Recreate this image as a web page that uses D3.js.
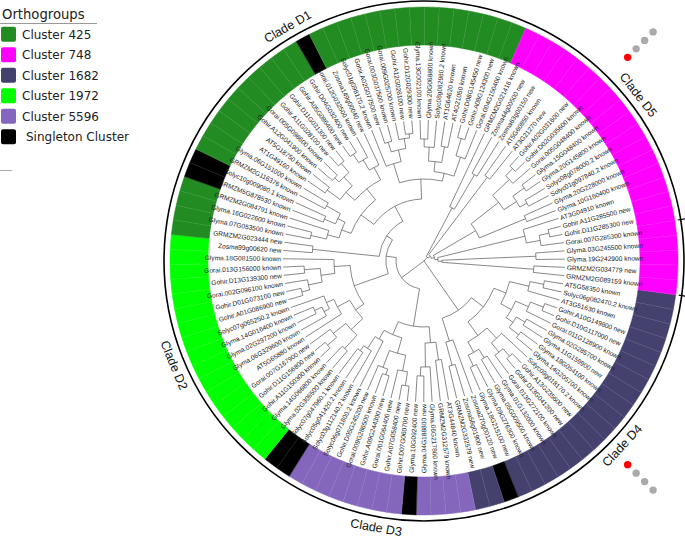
<!DOCTYPE html>
<html><head><meta charset="utf-8">
<script src="https://cdn.jsdelivr.net/npm/d3@7"></script>
<style>body{margin:0;background:#fff}svg{display:block}</style>
</head><body><svg id="c" width="685" height="538"></svg>
<script>
// ---------- DATA ----------
const leafLabels = [
"AT5G58350 known","Solyc06g082470.2 known","AT3G51630 known","Gohir.A10G149800 new","Gohir.D10G117000 new",
"Gorai.011G128900 known","Glyma.02G285700 known","Glyma.11G159900 new","Glyma.18G054100 known","Glyma.14G205700 known",
"Solyc09g018170.2 known","Gohir.A13G235600 new","Gohir.D13G041200 new","Gorai.013G272100 known","Glyma.01G132000 known",
"Glyma.05G009500 known","Glyma.09G276300 known","Glyma.18G215100 new","Zosma270g00120 new","Zosma56g01900 new",
"GRMZM2G332579 new","AT3G44840 known","GRMZM2G312579 known","Glyma.06G217800 known","Glyma.04G188800 new",
"Glyma.10G092400 new","Gohir.D07G060700 new","Gohir.A07G058400 new","Gorai.001G064400 new","Gohir.A09G244300 new",
"Gorai.009G286500 known","Gohir.D05G245200 new","Solyc06g071800.2 known","Solyc03g112140.2 known","Solyc05g041420.2 known",
"Solyc07g047960.1 known","Glyma.02G306500 known","Glyma.14G066800 known","Gohir.A11G150300 known","Gohir.D11G156800 new",
"Gorai.007G167900 new","AT5G65880 known","Glyma.06G329600 known","Glyma.02G297200 known","Glyma.14G016400 known",
"Solyc07g065250.2 known","Gohir.A01G086900 new","Gohir.D01G073100 new","Gorai.002G096100 known","Gohir.D13G139300 new",
"Gorai.013G156000 known","Glyma.18G081500 known","Zosma99g00620 new","GRMZM2G023444 new","Glyma.07G053500 known",
"Glyma.16G022600 known","GRMZM2G084791 known","GRMZM5G878530 known","Solyc10g009080.1 known","GRMZM2G116376 known",
"Glyma.06G151000 known","AT1G49160 known","AT5G18750 known","Gohir.A12G041900 known","Gorai.005G098600 known",
"Gohir.A11G028100 new","Gohir.D11G031300 new","Gohir.A05G086400 new","Gohir.D04G032400 new","Gorai.012G032500 known",
"Zosma149g00040 new","Solyc01g098170.2 known","Gohir.A02G077500 new","Gorai.003G037500 known","Gorai.009G025700 known",
"Gohir.A12G028100 new","Gohir.D12G029300 new","Glyma.13G002100 known","Glyma.20G068800 known","Solyc08g082980.2 known",
"AT1G64620 known","AT4G21050 known","Gohir.D08G145450 new","Gohir.A08G124300 new","Gorai.004G150400 known",
"GRMZM2G021416 known","Zosma44g00500 new","Zosma63g00150 new","AT5G60850 known","AT3G21270 new",
"Gohir.A02G031600 new","Gohir.D02G035600 known","Gorai.005G048400 known","Glyma.15G048400 known","Glyma.20G145800 known",
"Solyc08g078000.2 known","Solyc01g097840.2 known","Glyma.20G228000 known","Glyma.10G160400 known","AT3G04910 known",
"Gohir.A11G285500 new","Gohir.D11G285300 new","Gorai.007G285300 known","Glyma.03G245500 known","Glyma.19G242900 known",
"GRMZM2G034779 new","GRMZM2G089159 known"];

// cluster index of every leaf (index into clusterNames)
const leafCluster = [
2,2,2,2,2,2,2,2,2,2,2,2,2,2,2,2,2,2,5,2,2,
4,4,4,4,5,4,4,4,4,4,4,4,4,5,5,
3,3,3,3,3,3,3,3,3,3,3,3,3,3,3,3,3,
0,0,0,0,5,5,0,0,0,0,0,0,0,0,0,0,5,0,0,0,0,0,0,0,0,0,0,0,0,0,0,0,
1,1,1,1,1,1,1,1,1,1,1,1,1,1,1,1,1,1,1,1,1,1];

const clusterNames = ["Cluster 425","Cluster 748","Cluster 1682","Cluster 1972","Cluster 5596","Singleton Cluster"];
const clusterColors = ["#228B22","#FF00FF","#44416F","#00FF00","#8466BC","#000000"];

const cladeNames = ["Clade D4","Clade D3","Clade D2","Clade D1","Clade D5"];
const cladeFirstLeaf = [0,21,36,53,85];
const cladeLastLeaf  = [20,33,52,84,101];

// tree topology: leaf = index into leafLabels, value after ":" = node depth
const treeD4 = "((((0:132,1:130):122,2:126):108,(((3:134,4:134):128,5:130):114,((6:130,7:128):118,(8:130,9:127):120):108):100):88,((10:128,((11:134,12:134):128,13:130):118):106,((14:128,15:126):114,(16:130,17:128):116):104):92):75,(18:118,(19:126,20:120):108):84):60";
const treeD3 = "(((21:125,22:118):100,(23:128,(24:126,25:120):115):106):82,((((26:132,27:132):126,28:128):112,((29:130,30:128):120,31:124):114):96,(32:126,(33:122,(34:124,35:120):110):104):90):80):66";
const treeD2 = "((((36:130,37:128):118,((38:134,39:134):128,40:130):116):100,(41:124,((42:128,(43:130,44:128):120):112,45:122):106):98):84,((((46:132,47:132):126,48:128):118,(49:130,50:128):120):104,51:112):90):74";
const treePair = "(52:126,53:126):112";
const treeD1 = "((((((54:128,55:126):116,56:118):100,((57:124,58:120):108,(59:126,60:122):112):96):88,(((61:130,62:130):120,((63:130,64:128):122,(65:134,66:134):128):116):104,(((67:134,68:134):128,69:128):118,70:120):106):92):78,((71:124,((72:130,73:130):124,(74:130,(75:134,76:134):128):124):114):102,((((77:130,78:130):122,79:126):114,(80:128,81:126):116):100,((82:134,83:134):128,84:130):110):90):82):62";
const treeD5a = "(85:124,(86:130,87:128):100):60";
const treeD5b = "(88:130,89:128):105";
const treeD5c = "((((90:134,91:134):128,92:130):118,((93:132,94:130):124,(95:128,96:126):118):110):95,(97:126,98:124):110):60";
const treeD5d = "(99:126,((100:134,101:134):128,102:130):118):104";
const treeD5e = "((103:130,104:128):112,(105:128,106:126):110):18";
const treeNewick =
  "(((" + treeD4 + ",(" + treeD3 + ",(" + treeD2 + ",(" + treePair + "," + treeD1 + "):55):45):38):28," +
  "(" + treeD5a + ",(" + treeD5b + ",(" + treeD5c + ",(" + treeD5d + "," + treeD5e + "):14):11):8):5));";

const markerAngles = [-45, 45];
const markerRadii = [288, 300, 312, 324];
const markerColors = ["#FF0000","#AAAAAA","#AAAAAA","#AAAAAA"];

// ---------- LAYOUT ----------
const cx = 424, cy = 261;
const ringInner = 216, ringOuter = 254, outlineR = 260, labelR = 143;
const svg = d3.select("#c");
const nLeaf = leafLabels.length;
const angleScale = d3.scaleLinear().domain([0, nLeaf]).range([9.33, 9.33 + 360]);
const rScale = d3.scaleLinear().domain([0, 140]).range([0, 140]);
const rad = d => d * Math.PI / 180;
const pt = (r, a) => [cx + r * Math.cos(rad(a)), cy + r * Math.sin(rad(a))];

function parseNewick(s) {
  let pos = 0;
  function node() {
    const n = {};
    if (s[pos] === '(') {
      pos++; n.children = [];
      while (true) {
        n.children.push(node());
        if (s[pos] === ',') { pos++; continue; }
        if (s[pos] === ')') { pos++; break; }
        break;
      }
    }
    let name = '';
    while (pos < s.length && !':,();'.includes(s[pos])) name += s[pos++];
    if (name !== '') n.leaf = +name;
    if (s[pos] === ':') {
      pos++; let v = '';
      while (pos < s.length && !',();'.includes(s[pos])) v += s[pos++];
      n.r = +v;
    }
    return n;
  }
  return node();
}

// ---------- RING ----------
const arcGen = d3.arc();
const ringG = svg.append("g").attr("transform", `translate(${cx},${cy})`);
ringG.selectAll("path.cell").data(leafCluster).join("path")
  .attr("class", "cell")
  .attr("d", (c, i) => arcGen({innerRadius: ringInner, outerRadius: ringOuter,
      startAngle: rad(angleScale(i - 0.5) + 90), endAngle: rad(angleScale(i + 0.5) + 90)}))
  .attr("fill", c => clusterColors[c])
  .attr("stroke", c => clusterColors[c]).attr("stroke-width", 0.5);
ringG.selectAll("line.sep").data(leafCluster).join("line")
  .attr("class", "sep")
  .attr("x1", (c, i) => ringInner * Math.cos(rad(angleScale(i - 0.5))))
  .attr("y1", (c, i) => ringInner * Math.sin(rad(angleScale(i - 0.5))))
  .attr("x2", (c, i) => ringOuter * Math.cos(rad(angleScale(i - 0.5))))
  .attr("y2", (c, i) => ringOuter * Math.sin(rad(angleScale(i - 0.5))))
  .attr("stroke", "rgba(255,255,255,0.13)").attr("stroke-width", 0.6);

// outline
svg.append("circle").attr("cx", cx).attr("cy", cy).attr("r", outlineR)
  .attr("fill", "none").attr("stroke", "#000").attr("stroke-width", 1.6);
[angleScale(cladeFirstLeaf[0] - 0.5), angleScale(cladeLastLeaf[4] + 0.5)].forEach(a => {
  const p1 = pt(outlineR - 3, a), p2 = pt(outlineR + 6, a);
  svg.append("line").attr("x1", p1[0]).attr("y1", p1[1]).attr("x2", p2[0]).attr("y2", p2[1])
    .attr("stroke", "#000").attr("stroke-width", 1.2);
});

// clade labels
cladeNames.forEach((name, k) => {
  const a = angleScale((cladeFirstLeaf[k] + cladeLastLeaf[k]) / 2);
  const am = ((a % 360) + 360) % 360;
  const rot = (am > 0 && am < 180) ? am - 90 : am + 90;
  const p = pt(271, a);
  svg.append("text").attr("transform", `translate(${p[0]},${p[1]}) rotate(${rot})`)
    .attr("text-anchor", "middle").attr("dominant-baseline", "central")
    .attr("font-family", "Liberation Sans, Arial, sans-serif").attr("font-size", 12.5)
    .attr("fill", "#111").text(name);
});

// ---------- TREE ----------
const root = d3.hierarchy(parseNewick(treeNewick));
root.eachAfter(n => {
  n.ang = n.children ? d3.mean(n.children, c => c.ang) : angleScale(n.data.leaf);
  n.rad = rScale(n.data.r || 0);
});
const treeG = svg.append("g").attr("fill", "none").attr("stroke", "#555").attr("stroke-width", 0.7);
root.descendants().forEach(n => {
  if (n.parent) {
    const p1 = pt(n.parent.rad, n.ang), p2 = pt(n.rad, n.ang);
    treeG.append("line").attr("x1", p1[0]).attr("y1", p1[1]).attr("x2", p2[0]).attr("y2", p2[1]);
  }
  if (n.children && n.rad > 0) {
    const a0 = n.children[0].ang, a1 = n.children[n.children.length - 1].ang;
    const path = d3.path();
    const s = pt(n.rad, a0);
    path.moveTo(s[0], s[1]);
    path.arc(cx, cy, n.rad, rad(a0), rad(a1), false);
    treeG.append("path").attr("d", path.toString());
  }
});
// leader lines
root.leaves().forEach(n => {
  if (n.rad < labelR - 2) {
    const p1 = pt(n.rad, n.ang), p2 = pt(labelR - 2, n.ang);
    treeG.append("line").attr("x1", p1[0]).attr("y1", p1[1]).attr("x2", p2[0]).attr("y2", p2[1]);
  }
});

// tip labels
svg.append("g").selectAll("text").data(leafLabels).join("text")
  .attr("transform", (d, i) => {
    const a = angleScale(i);
    const am = ((a % 360) + 360) % 360;
    const p = pt(labelR, a);
    const rot = (am > 90 && am < 270) ? am + 180 : am;
    return `translate(${p[0]},${p[1]}) rotate(${rot})`;
  })
  .attr("text-anchor", (d, i) => { const am = ((angleScale(i) % 360) + 360) % 360; return (am > 90 && am < 270) ? "end" : "start"; })
  .attr("dominant-baseline", "central")
  .attr("font-family", "Liberation Sans, Arial, sans-serif").attr("font-size", 6.6)
  .attr("fill", "#222").text(d => d);

// markers
markerAngles.forEach(a => {
  markerRadii.forEach((r, j) => {
    const p = pt(r, a);
    svg.append("circle").attr("cx", p[0]).attr("cy", p[1]).attr("r", 3.7).attr("fill", markerColors[j]);
  });
});

// ---------- LEGEND ----------
const lg = svg.append("g").attr("font-family", "DejaVu Sans, sans-serif");
lg.append("text").attr("x", 2).attr("y", 19).attr("font-size", 13.2).attr("fill", "#222").text("Orthogroups");
lg.append("line").attr("x1", 0).attr("x2", 97).attr("y1", 23.5).attr("y2", 23.5).attr("stroke", "#999").attr("stroke-width", 1);
clusterNames.forEach((nm, k) => {
  const y = 34.3 + k * 20.5;
  lg.append("rect").attr("x", 1).attr("y", y - 7.5).attr("width", 15).attr("height", 15).attr("rx", 2)
    .attr("fill", clusterColors[k]);
  lg.append("text").attr("x", k === 5 ? 26 : 22).attr("y", y + 4.3).attr("font-size", 12).attr("fill", "#222").text(nm);
});
lg.append("line").attr("x1", 0).attr("x2", 12).attr("y1", 170.5).attr("y2", 170.5).attr("stroke", "#aaa").attr("stroke-width", 1);
</script>
</body></html>
